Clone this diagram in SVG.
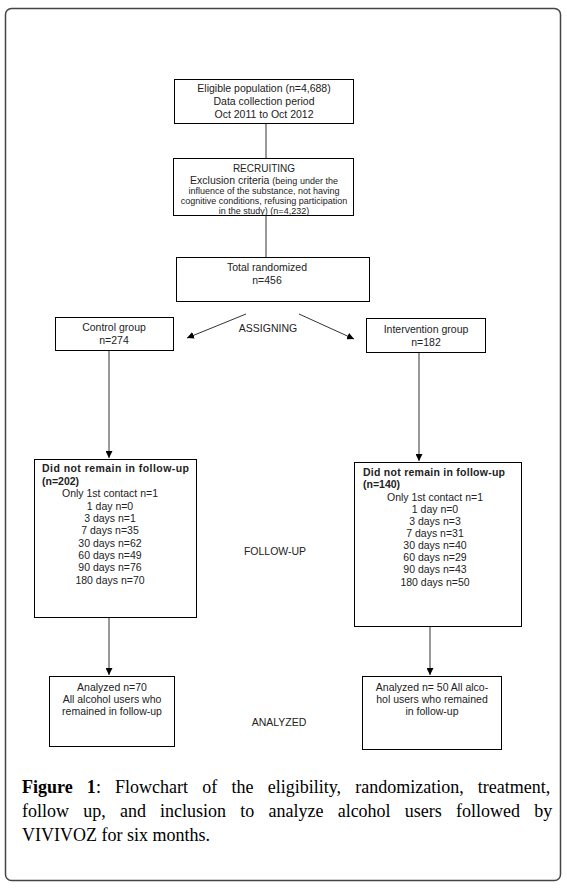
<svg xmlns="http://www.w3.org/2000/svg" width="567" height="891" viewBox="0 0 567 891">
<defs>
<marker id="ah" viewBox="0 0 10 10" refX="10" refY="5" markerWidth="7" markerHeight="7" markerUnits="userSpaceOnUse" orient="auto">
<path d="M0,0 L10,5 L0,10 z" fill="#000"/>
</marker>
<style>
.box{fill:#fff;stroke:#000;stroke-width:1}
.t{font-family:"Liberation Sans",Arial,sans-serif;font-size:10.5px;fill:#222;text-anchor:middle}
.s{font-size:9px}
.b{font-weight:bold;text-anchor:start}
.ln{stroke:#333;stroke-width:1;fill:none}
.cap{font-family:"Liberation Serif","Times New Roman",serif;font-size:18px;fill:#000}
</style>
</defs>
<rect x="0" y="0" width="567" height="891" fill="#fff"/>
<rect x="5.5" y="8.5" width="555" height="872" rx="6" fill="none" stroke="#444" stroke-width="1.5"/>

<g id="connectors">
<line class="ln" x1="266" y1="123" x2="266" y2="158"/>
<line class="ln" x1="266" y1="215" x2="266" y2="257"/>
<line class="ln" x1="246" y1="314" x2="187" y2="338" marker-end="url(#ah)"/>
<line class="ln" x1="299" y1="314" x2="354" y2="339" marker-end="url(#ah)"/>
<line class="ln" x1="109" y1="351" x2="109" y2="458" marker-end="url(#ah)"/>
<line class="ln" x1="419" y1="353" x2="419" y2="461" marker-end="url(#ah)"/>
<line class="ln" x1="109" y1="617" x2="109" y2="675" marker-end="url(#ah)"/>
<line class="ln" x1="430" y1="627" x2="430" y2="675" marker-end="url(#ah)"/>
</g>

<g id="eligible">
<rect class="box" x="174.5" y="79.5" width="179" height="44"/>
<text class="t" x="264" y="92">Eligible population (n=4,688)</text>
<text class="t" x="264" y="105">Data collection period</text>
<text class="t" x="264" y="118">Oct 2011 to Oct 2012</text>
</g>

<g id="recruiting">
<rect class="box" x="173.5" y="158.5" width="180" height="57"/>
<text class="t" x="264" y="172" style="font-size:10px">RECRUITING</text>
<text class="t" x="264" y="184">Exclusion criteria <tspan class="s">(being under the</tspan></text>
<text class="t s" x="264" y="194">influence of the substance, not having</text>
<text class="t s" x="264" y="204">cognitive conditions, refusing participation</text>
<text class="t s" x="264" y="213.5">in the study) (n=4,232)</text>
</g>

<g id="randomized">
<rect class="box" x="176.5" y="257.5" width="193" height="44"/>
<text class="t" x="267" y="271">Total randomized</text>
<text class="t" x="267" y="284">n=456</text>
</g>

<text class="t" x="268" y="332">ASSIGNING</text>

<g id="control">
<rect class="box" x="55.5" y="317.5" width="118" height="33"/>
<text class="t" x="114" y="331">Control group</text>
<text class="t" x="114" y="344">n=274</text>
</g>

<g id="intervention">
<rect class="box" x="366.5" y="318.5" width="119" height="34"/>
<text class="t" x="426" y="333">Intervention group</text>
<text class="t" x="426" y="346">n=182</text>
</g>

<g id="followup-control">
<rect class="box" x="34.5" y="459.5" width="162" height="158"/>
<text class="t b" x="42" y="472" textLength="147" lengthAdjust="spacing">Did not remain in follow-up</text>
<text class="t b" x="42" y="485">(n=202)</text>
<text class="t" x="110" y="497">Only 1st contact n=1</text>
<text class="t" x="110" y="510">1 day n=0</text>
<text class="t" x="110" y="522">3 days n=1</text>
<text class="t" x="110" y="534">7 days n=35</text>
<text class="t" x="110" y="547">30 days n=62</text>
<text class="t" x="110" y="559">60 days n=49</text>
<text class="t" x="110" y="571">90 days n=76</text>
<text class="t" x="110" y="584">180 days n=70</text>
</g>

<text class="t" x="275" y="555">FOLLOW-UP</text>

<g id="followup-intervention">
<rect class="box" x="354.5" y="462.5" width="167" height="164"/>
<text class="t b" x="363" y="476" textLength="142" lengthAdjust="spacing">Did not remain in follow-up</text>
<text class="t b" x="363" y="488">(n=140)</text>
<text class="t" x="435" y="501">Only 1st contact n=1</text>
<text class="t" x="435" y="513">1 day n=0</text>
<text class="t" x="435" y="525">3 days n=3</text>
<text class="t" x="435" y="537">7 days n=31</text>
<text class="t" x="435" y="549">30 days n=40</text>
<text class="t" x="435" y="561">60 days n=29</text>
<text class="t" x="435" y="573">90 days n=43</text>
<text class="t" x="435" y="586">180 days n=50</text>
</g>

<g id="analyzed-control">
<rect class="box" x="49.5" y="676.5" width="125" height="70"/>
<text class="t" x="112" y="691">Analyzed n=70</text>
<text class="t" x="112" y="703">All alcohol users who</text>
<text class="t" x="112" y="715">remained in follow-up</text>
</g>

<text class="t" x="279" y="726">ANALYZED</text>

<g id="analyzed-intervention">
<rect class="box" x="362.5" y="676.5" width="139" height="73"/>
<text class="t" x="432" y="691">Analyzed n= 50 All alco-</text>
<text class="t" x="432" y="703">hol users who remained</text>
<text class="t" x="432" y="715">in follow-up</text>
</g>

<g id="caption">
<text class="cap" x="22" y="793" style="word-spacing:9.7px"><tspan font-weight="bold">Figure 1</tspan>: Flowchart of the eligibility, randomization, treatment,</text>
<text class="cap" x="22" y="817" style="word-spacing:9.7px">follow up, and inclusion to analyze alcohol users followed by</text>
<text class="cap" x="22" y="841">VIVIVOZ for six months.</text>
</g>
</svg>
